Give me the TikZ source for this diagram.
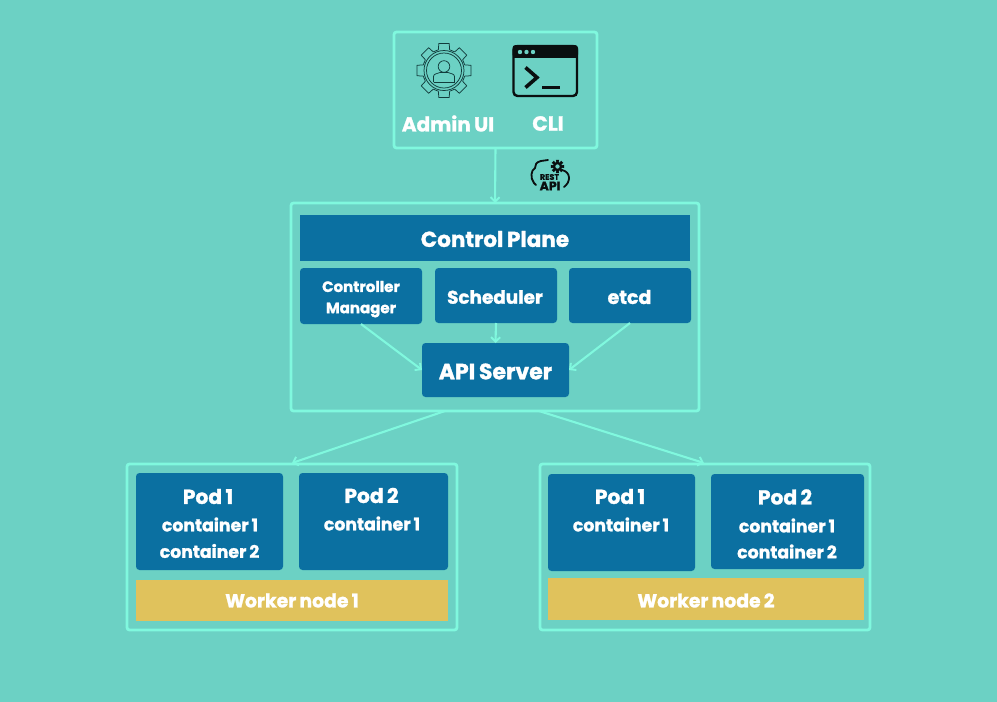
\documentclass[tikz,border=0pt]{standalone}
\usepackage{fontspec}
\setmainfont{Poppins}[BoldFont={Poppins Bold},BoldFeatures={FakeBold=1.4,WordSpace=0.8}]
\usetikzlibrary{arrows.meta,calc}
\definecolor{bgc}{HTML}{6CD1C4}
\definecolor{linec}{HTML}{80F8DE}
\definecolor{bluec}{HTML}{0B70A1}
\definecolor{yellowc}{HTML}{E0C25C}
\definecolor{inkc}{HTML}{0A0F10}
\definecolor{gearc}{HTML}{123C3C}
\tikzset{
  x=1pt,y=-1pt,
  frame/.style={draw=linec,line width=2.8pt,rounded corners=2.5pt},
  bluebox/.style={fill=bluec,rounded corners=3.5pt},
  yellowbox/.style={fill=yellowc},
  lab/.style={text=white,font=\bfseries\fontsize{#1}{#1}\selectfont,inner sep=0pt,anchor=center},
  lab/.default=15,
  conn/.style={draw=linec,line width=2.1pt,-{Straight Barb[length=4.5pt,width=9pt,line width=1.9pt]}},
}
\newcommand{\bx}[6]{\path[#2] (#3,#4) rectangle (#5,#6) coordinate[pos=.5] (#1-c);
  \coordinate (#1-n) at ({(#3+#5)/2},#4);\coordinate (#1-s) at ({(#3+#5)/2},#6);
  \coordinate (#1-w) at (#3,{(#4+#6)/2});\coordinate (#1-e) at (#5,{(#4+#6)/2});}
\begin{document}
\begin{tikzpicture}
\useasboundingbox (0,0) rectangle (997,702);
\fill[bgc] (0,0) rectangle (997,702);
% frames
\bx{adm}{frame}{394}{32}{597}{148}
\bx{cp}{frame}{291}{203}{699}{411}
\bx{wa}{frame}{127}{464}{457}{630}
\bx{wb}{frame}{540}{464}{870}{630}
% control plane
\bx{title}{fill=bluec}{300}{215}{690}{261}
\bx{ctrl}{bluebox}{300}{268}{422}{324}
\bx{sched}{bluebox}{435}{268}{557}{323}
\bx{etcd}{bluebox}{569}{268}{691}{323}
\bx{api}{bluebox}{422}{343}{569}{397}
% worker 1
\bx{pa}{bluebox}{136}{473}{283}{570}
\bx{pb}{bluebox}{299}{473}{448}{570}
\bx{ya}{yellowbox}{136}{580}{448}{621}
% worker 2
\bx{pc}{bluebox}{548}{474}{695}{571}
\bx{pd}{bluebox}{711}{474}{864}{569}
\bx{yb}{yellowbox}{548}{578}{864}{620}
% labels
\node[lab=20] (t-admin) at (448,123.5) {Admin UI};
\node[lab=20.5] (t-cli) at (548,123.5) {CLI};
\node[lab=21.5] (t-cp) at (495,239) {Control Plane};
\node[lab=15] (t-c1) at (361,286.5) {Controller};
\node[lab=15] (t-c2) at (361,310) {Manager};
\node[lab=18.4] (t-s) at (495,297) {Scheduler};
\node[lab=19] (t-e) at (629.5,297) {etcd};
\node[lab=22] (t-api) at (495.5,371.5) {API Server};
\node[lab=20.2] (t-p1) at (208,496.5) {Pod 1};
\node[lab=17.3] (t-p1a) at (210,524.5) {container 1};
\node[lab=17.3] (t-p1b) at (209.5,551) {container 2};
\node[lab=20.2] (t-p2) at (371.5,495.5) {Pod 2};
\node[lab=17.3] (t-p2a) at (372,523.5) {container 1};
\node[lab=18.8] (t-w1) at (292,600.5) {Worker node 1};
\node[lab=20.2] (t-p3) at (620,496.5) {Pod 1};
\node[lab=17.3] (t-p3a) at (621,524.5) {container 1};
\node[lab=20.2] (t-p4) at (785,497) {Pod 2};
\node[lab=17.3] (t-p4a) at (787,525.5) {container 1};
\node[lab=17.3] (t-p4b) at (787,551.5) {container 2};
\node[lab=18.8] (t-w2) at (706,600.5) {Worker node 2};
% connectors
\draw[conn] (adm-s) -- (cp-n);
\draw[conn] (ctrl-s) -- (api-w);
\draw[conn] (sched-s) -- (api-n);
\draw[conn] (etcd-s) -- (api-e);
\coordinate (cpl) at (445,411);
\coordinate (cpr) at (539,411);
\coordinate (wal) at (292,463);
\coordinate (wbr) at (704,463);
\draw[conn] (cpl) -- (wal);
\draw[conn] (cpr) -- (wbr);
% gear icon
\begin{scope}[shift={(444,70.5)},draw=gearc,line width=.75pt,line join=round]
  \draw (0,0) circle (20);
  \draw (0,0) circle (17.5);
  \foreach \a in {0,45,...,315}{
    \draw ({\a-15}:21.5) -- ({\a-11}:27.5) -- ({\a+11}:27.5) -- ({\a+15}:21.5);
    \draw ({\a+15}:21.5) arc[start angle={\a+15},end angle={\a+30},radius=21.5];
  }
  \draw (0,-4) circle (5.8);
  \draw (-10.5,11.5) -- (-10.5,6) .. controls (-10.5,3.5) and (-7,3) .. (-4,2) -- (4,2) .. controls (7,3) and (10.5,3.5) .. (10.5,6) -- (10.5,11.5);
  \draw (-10.5,11.5) -- (10.5,11.5);
\end{scope}
% CLI icon
\draw[inkc,line width=2.4pt,rounded corners=4pt] (513.5,46) rectangle (577,96);
\fill[inkc,rounded corners=3pt] (512.5,45) rectangle (578,57.5);
\fill[inkc] (512.5,52) rectangle (578,57.5);
\foreach \p in {520,526.5,533}{\fill[bgc] (\p,52) circle (2.2);}
\draw[inkc,line width=3.6pt,line join=miter] (525.5,67.5) -- (537,77.5) -- (525.5,87.5);
\draw[inkc,line width=3pt] (542,87) -- (560,87);
% REST API icon
\draw[inkc,line width=1.8pt,line cap=round]
  (541,161) .. controls (536,162) and (535,165) .. (535,168)
  .. controls (531,170) and (530,178) .. (534,183) -- (536,185);
\draw[inkc,line width=1.8pt,line cap=round] (562,170) .. controls (571,172) and (571,182) .. (564,187);
\draw[inkc,line width=1.8pt,line cap=round] (541,161) -- (548,160);
\begin{scope}[shift={(557.5,166.5)}]
  \foreach \a in {0,45,...,315}{\fill[inkc] (\a-15:4.5) -- (\a-13:6.8) -- (\a+13:6.8) -- (\a+15:4.5) -- cycle;}
  \draw[inkc,line width=2.4pt] (0,0) circle (3.6);
\end{scope}
\node[inner sep=0pt,text=inkc,font=\bfseries\fontsize{8}{8}\selectfont] (t-rest) at (549.5,177) {REST};
\node[inner sep=0pt,text=inkc,font=\bfseries\fontsize{12.5}{12.5}\selectfont] (t-rapi) at (550,186) {API};
\end{tikzpicture}
\end{document}
